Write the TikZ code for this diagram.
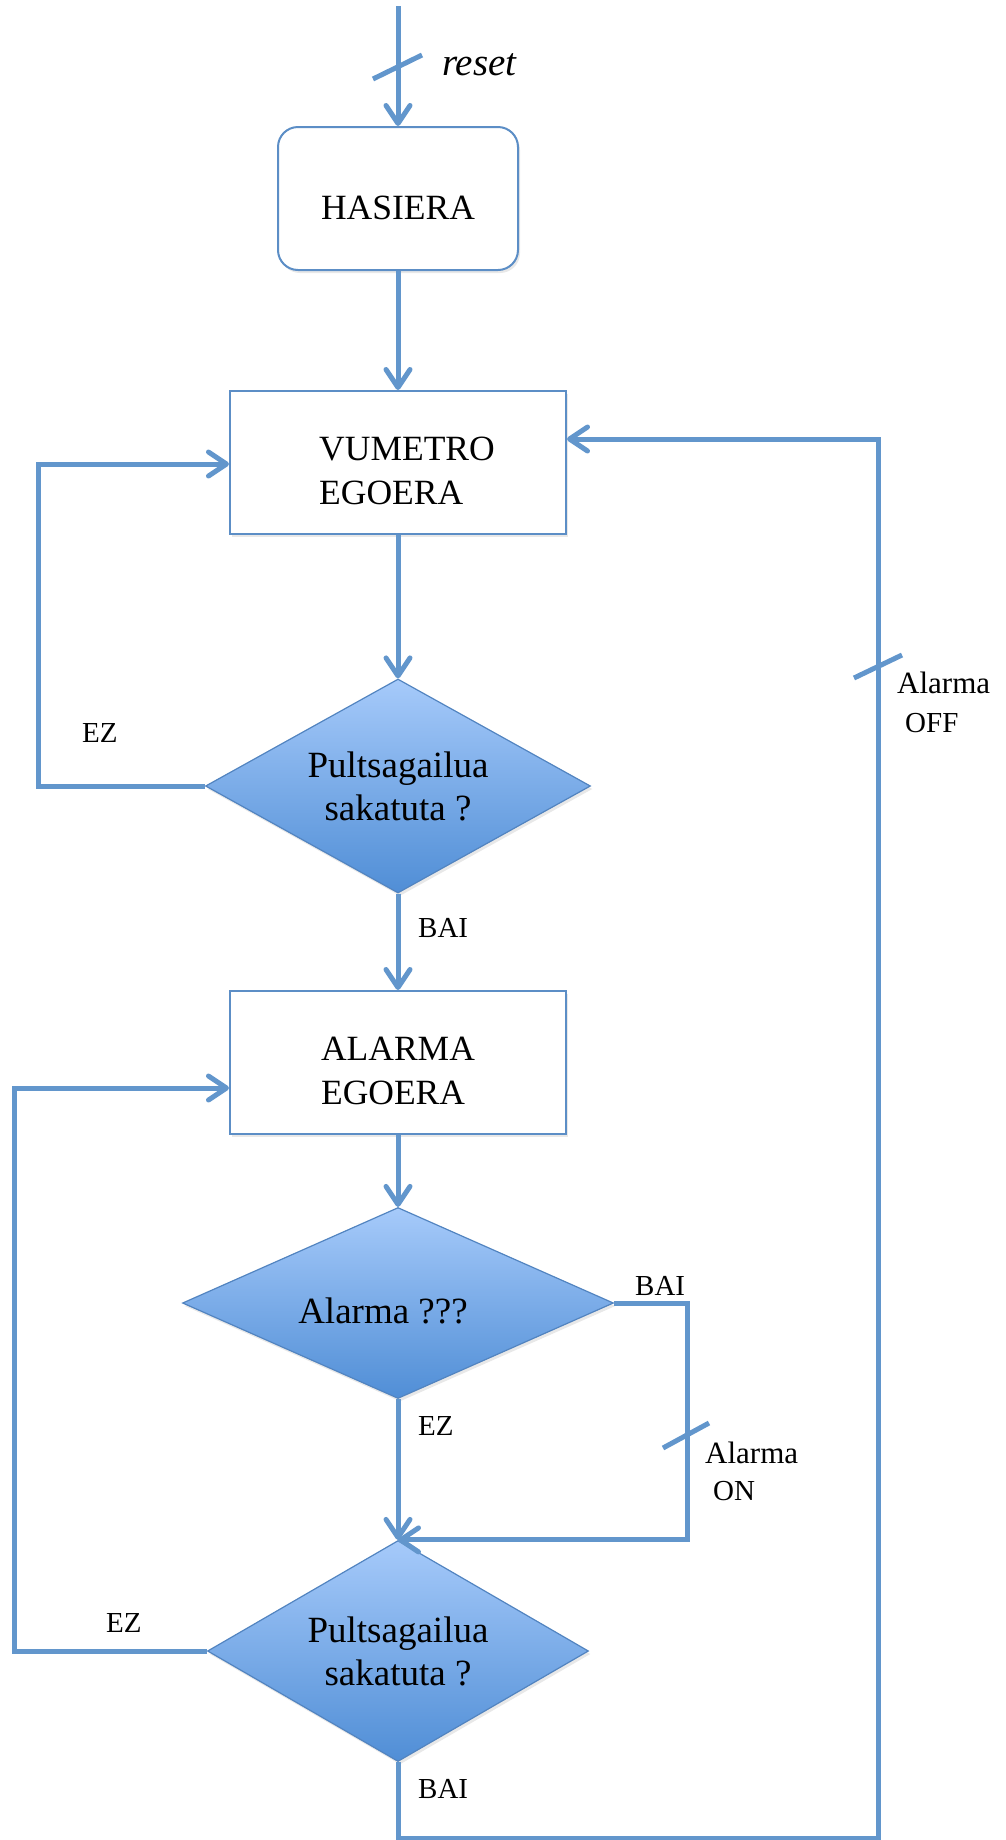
\documentclass[tikz,border=0pt]{standalone}
\usepackage{fontspec}
\setmainfont{Liberation Serif}
\usetikzlibrary{shapes.geometric,arrows.meta,shadows}
\definecolor{lineC}{RGB}{98,150,204}
\definecolor{boxC}{RGB}{92,142,198}
\definecolor{dTop}{RGB}{166,202,250}
\definecolor{dBot}{RGB}{80,142,214}
\definecolor{dBorder}{RGB}{82,132,192}
\tikzset{
  conn/.style={draw=lineC, line width=5pt, -{Straight Barb[length=18pt,width=24pt,round]}},
  tickmark/.style={draw=lineC, line width=5pt},
  softshadow/.style={drop shadow={opacity=0.18, shadow xshift=2pt, shadow yshift=-3pt}},
  stbox/.style={rectangle, draw=boxC, line width=2pt, fill=white, softshadow, minimum width=336pt, minimum height=143pt, inner sep=0pt, align=left, font=\fontsize{35.5}{44}\selectfont},
  startbox/.style={rectangle, rounded corners=20pt, draw=boxC, line width=2pt, fill=white, softshadow, minimum width=240pt, minimum height=143pt, inner sep=0pt, font=\fontsize{35.5}{44}\selectfont},
  dec/.style={diamond, shape aspect=2, draw=dBorder, line width=1.2pt, top color=dTop, bottom color=dBot, softshadow, inner sep=0pt, align=center, font=\fontsize{37}{43}\selectfont},
  lbl/.style={anchor=base west, inner sep=0pt, font=\fontsize{29}{35}\selectfont},
}
\begin{document}
\begin{tikzpicture}[x=1pt,y=-1pt]
\useasboundingbox (0,0) rectangle (1006,1840);

% nodes
\node[startbox] (has) at (398,198.5) {\rule{0pt}{43pt}HASIERA};
\node[stbox] (vum) at (398,462.5) {\rule{0pt}{40pt}\hspace*{18pt}VUMETRO\\\hspace*{18pt}EGOERA};
\node[dec, minimum width=385pt, minimum height=214pt] (d1) at (398,786) {Pultsagailua\\sakatuta ?};
\node[stbox] (alm) at (398,1062.5) {\rule{0pt}{40pt}ALARMA\\EGOERA};
\node[dec, minimum width=431pt, minimum height=191pt] (d2) at (398,1303) {\rule{0pt}{41pt}Alarma ???\hspace*{30pt}};
\node[dec, minimum width=381pt, minimum height=221pt] (d3) at (398,1651) {Pultsagailua\\sakatuta ?};

% coordinates
\coordinate (rtop) at (398,6);
\coordinate (l1) at (38,786);
\coordinate (l1t) at (38,464);
\coordinate (c2) at (687,1303);
\coordinate (l3) at (14,1651);
\coordinate (l3t) at (14,1088);
\coordinate (rb) at (878,1838);
\coordinate (rt) at (878,439);

% labels
\node[lbl, font=\itshape\fontsize{39}{45}\selectfont] (lreset) at (442,75) {reset};
\node[lbl] (lez1) at (82,742) {EZ};
\node[lbl] (lbai1) at (418,937) {BAI};
\node[lbl] (lez2) at (418,1435) {EZ};
\node[lbl] (lbai2) at (635,1295) {BAI};
\node[lbl, font=\fontsize{31}{35}\selectfont] (lon1) at (705,1463) {Alarma};
\node[lbl] (lon2) at (713,1500) {ON};
\node[lbl] (lez3) at (106,1632) {EZ};
\node[lbl] (lbai3) at (418,1798) {BAI};
\node[lbl, font=\fontsize{31}{35}\selectfont] (loff1) at (897,693) {Alarma};
\node[lbl] (loff2) at (905,732) {OFF};

% connectors
\draw[conn] (rtop) -- (has.north);
\draw[conn] (has.south) -- (vum.north);
\draw[conn] (vum.south) -- (d1.north);
\draw[conn] (d1.west) -- (l1) -- (l1t) -- (vum.west |- l1t);
\draw[conn] (d1.south) -- (alm.north);
\draw[conn] (alm.south) -- (d2.north);
\draw[conn] (d2.south) -- (d3.north);
\draw[conn] (d2.east) -- (c2) |- (d3.north);
\draw[conn] (d3.west) -- (l3) -- (l3t) -- (alm.west |- l3t);
\draw[conn] (d3.south) |- (rb) -- (rt) -- (vum.east |- rt);

% tick marks
\draw[tickmark] (373,79) -- (422,55);
\draw[tickmark] (854,678) -- (902,655);
\draw[tickmark] (663,1448) -- (709,1423);
\end{tikzpicture}
\end{document}
